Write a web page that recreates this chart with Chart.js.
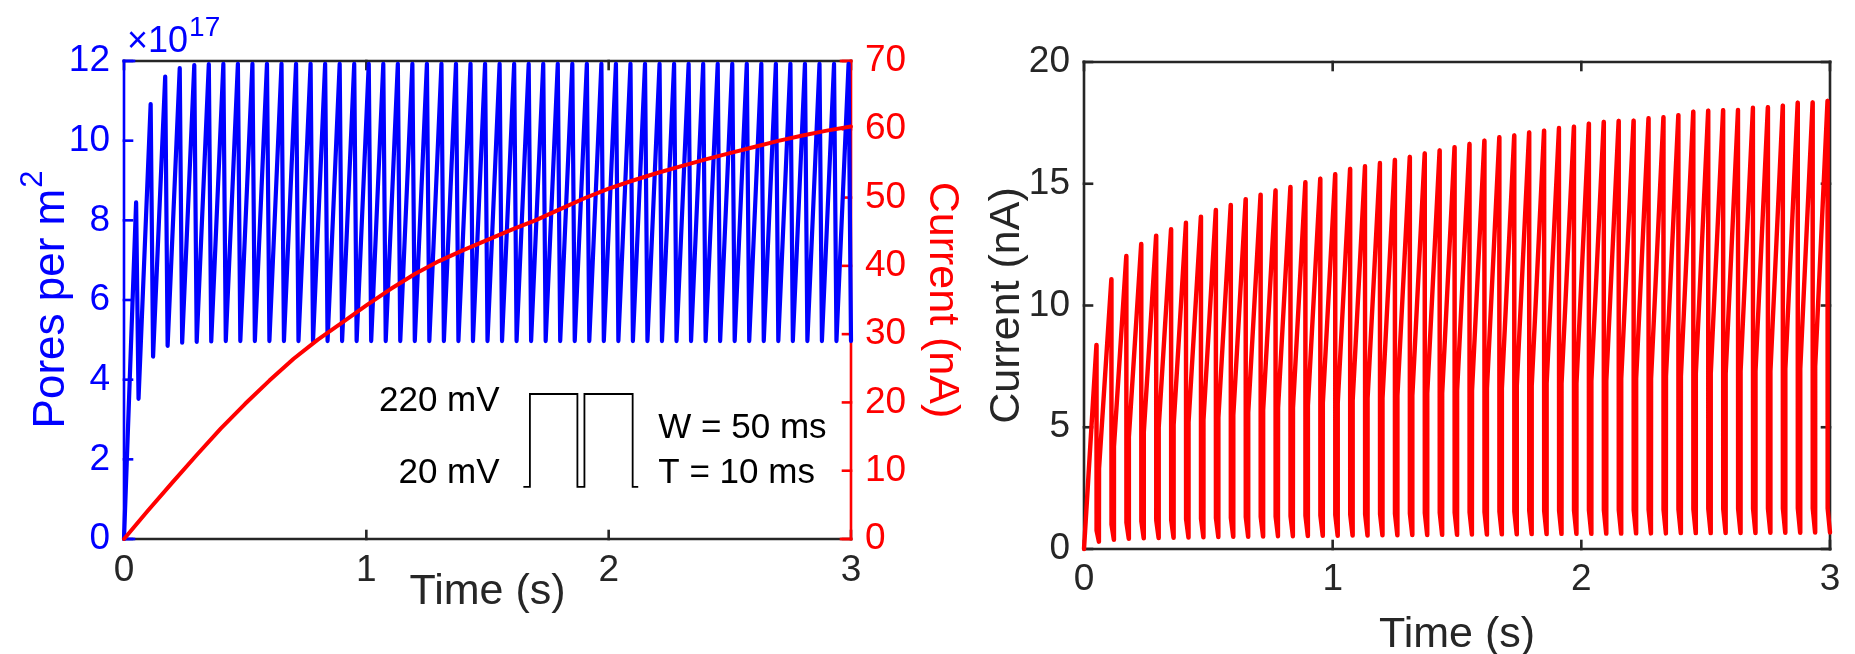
<!DOCTYPE html>
<html>
<head>
<meta charset="utf-8">
<script src="https://cdn.jsdelivr.net/npm/chart.js@4.4.1/dist/chart.umd.min.js"></script>
<style>
  html, body { margin: 0; padding: 0; background: #ffffff; overflow: hidden; }
  #wrap { position: relative; width: 1855px; height: 654px; }
  canvas { position: absolute; top: 0; }
  #poresChart { left: 0; }
  #currentChart { left: 980px; }
</style>
</head>
<body>
<div id="wrap">
  <canvas id="poresChart" width="980" height="654"></canvas>
  <canvas id="currentChart" width="875" height="654"></canvas>
</div>
<script>
// Pulse train: W = 50 ms at 220 mV, then T = 10 ms at 20 mV, repeated over 3 s
const pulseWidth = 0.05;
const pulseGap = 0.01;
const switchTime = 0.0005;

// Pore density (x10^17 per m^2) at the end of each 220 mV phase and of each 20 mV phase
const poresPeak = [
  8.45, 10.92, 11.61, 11.82, 11.90, 11.92, 11.93, 11.93, 11.93, 11.93,
  11.93, 11.93, 11.93, 11.93, 11.93, 11.93, 11.93, 11.93, 11.93, 11.93,
  11.93, 11.93, 11.93, 11.93, 11.93, 11.93, 11.93, 11.93, 11.93, 11.93,
  11.93, 11.93, 11.93, 11.93, 11.93, 11.93, 11.93, 11.93, 11.93, 11.93,
  11.93, 11.93, 11.93, 11.93, 11.93, 11.93, 11.93, 11.93, 11.93, 11.93
];
const poresTrough = [
  3.52, 4.58, 4.85, 4.93, 4.95, 4.96, 4.97, 4.97, 4.97, 4.97,
  4.97, 4.97, 4.97, 4.97, 4.97, 4.97, 4.97, 4.97, 4.97, 4.97,
  4.97, 4.97, 4.97, 4.97, 4.97, 4.97, 4.97, 4.97, 4.97, 4.97,
  4.97, 4.97, 4.97, 4.97, 4.97, 4.97, 4.97, 4.97, 4.97, 4.97,
  4.97, 4.97, 4.97, 4.97, 4.97, 4.97, 4.97, 4.97, 4.97, 4.97
];

// Slowly rising current (nA) on the right axis of the left panel
const slowTime = [
  0.0, 0.1, 0.2, 0.3, 0.4, 0.5, 0.6, 0.7, 0.8, 0.9,
  1.0, 1.1, 1.2, 1.3, 1.4, 1.5, 1.6, 1.7, 1.8, 1.9,
  2.0, 2.1, 2.2, 2.3, 2.4, 2.5, 2.6, 2.7, 2.8, 2.9, 3.0
];
const slowCurrent = [
  0.0, 4.2, 8.3, 12.3, 16.2, 19.8, 23.2, 26.4, 29.2, 31.7,
  34.2, 36.6, 38.8, 40.7, 42.3, 43.8, 45.3, 46.7, 48.3, 49.9,
  51.3, 52.5, 53.6, 54.6, 55.6, 56.5, 57.4, 58.3, 59.1, 59.8, 60.4
];

// Pulsed current (nA): level right after each pulse switches on,
// at the end of each pulse, right after it switches off, and at the end of each gap
const currentOn = [
  0.0, 3.3, 4.2, 4.6, 4.8, 5.0, 5.1, 5.2, 5.3, 5.4,
  5.5, 5.6, 5.7, 5.8, 5.8, 5.9, 6.0, 6.0, 6.1, 6.2,
  6.2, 6.3, 6.3, 6.4, 6.4, 6.5, 6.5, 6.6, 6.6, 6.7,
  6.7, 6.8, 6.8, 6.8, 6.9, 6.9, 7.0, 7.0, 7.0, 7.1,
  7.1, 7.2, 7.2, 7.2, 7.3, 7.3, 7.3, 7.4, 7.4, 7.5, 7.6
];
const currentPeak = [
  8.38, 11.08, 12.03, 12.53, 12.87, 13.13, 13.40, 13.65, 13.92, 14.13,
  14.37, 14.55, 14.72, 14.87, 15.06, 15.21, 15.39, 15.61, 15.72, 15.85,
  15.98, 16.10, 16.24, 16.37, 16.50, 16.63, 16.77, 16.91, 16.98, 17.11,
  17.18, 17.29, 17.34, 17.47, 17.54, 17.58, 17.59, 17.69, 17.73, 17.82,
  17.96, 18.00, 18.02, 18.03, 18.12, 18.14, 18.21, 18.33, 18.34, 18.40
];
const currentOff = [
  0.76, 1.01, 1.09, 1.14, 1.17, 1.19, 1.22, 1.24, 1.27, 1.28,
  1.31, 1.32, 1.34, 1.35, 1.37, 1.38, 1.40, 1.42, 1.43, 1.44,
  1.45, 1.46, 1.48, 1.49, 1.50, 1.51, 1.52, 1.54, 1.54, 1.56,
  1.56, 1.57, 1.58, 1.59, 1.60, 1.60, 1.60, 1.61, 1.61, 1.62,
  1.63, 1.64, 1.64, 1.64, 1.65, 1.65, 1.66, 1.67, 1.67, 1.67
];
const currentRest = [
  0.30, 0.38, 0.42, 0.44, 0.45, 0.46, 0.47, 0.48, 0.49, 0.50,
  0.50, 0.51, 0.52, 0.52, 0.53, 0.54, 0.54, 0.55, 0.55, 0.56,
  0.56, 0.57, 0.57, 0.58, 0.58, 0.59, 0.59, 0.60, 0.60, 0.61,
  0.61, 0.62, 0.62, 0.62, 0.63, 0.63, 0.64, 0.64, 0.64, 0.65,
  0.65, 0.65, 0.66, 0.66, 0.66, 0.67, 0.67, 0.67, 0.68, 0.68
];

const xTicks = [0, 1, 2, 3];
const poresTicks = [0, 2, 4, 6, 8, 10, 12];
const slowTicks = [0, 10, 20, 30, 40, 50, 60, 70];
const currentTicks = [0, 5, 10, 15, 20];

const FONT = "'Liberation Sans', Arial, Helvetica, sans-serif";
const INK = '#262626';
const BLUE = '#0000ff';
const RED = '#ff0000';

// ---- series built from the arrays above ----
const period = pulseWidth + pulseGap;
const poresPts = [{ x: 0, y: 0 }];
poresPeak.forEach((p, k) => {
  const t0 = k * period;
  poresPts.push({ x: t0 + pulseWidth, y: p });
  poresPts.push({ x: t0 + period, y: poresTrough[k] });
});

const slowPts = slowTime.map((t, i) => ({ x: t, y: slowCurrent[i] }));

const currentPts = [{ x: 0, y: 0 }];
currentPeak.forEach((p, k) => {
  const t0 = k * period;
  if (k > 0) currentPts.push({ x: t0 + switchTime, y: currentOn[k] });
  currentPts.push({ x: t0 + pulseWidth, y: p });
  currentPts.push({ x: t0 + pulseWidth + switchTime, y: currentOff[k] });
  currentPts.push({ x: t0 + period, y: currentRest[k] });
});
currentPts.push({ x: currentPeak.length * period, y: currentOn[currentPeak.length] });

// ---- frame with inward tick marks ----
function hLine(ctx, x0, x1, y, color, w) {
  ctx.strokeStyle = color; ctx.lineWidth = w;
  ctx.beginPath(); ctx.moveTo(x0, y); ctx.lineTo(x1, y); ctx.stroke();
}
function vLine(ctx, x, y0, y1, color, w) {
  ctx.strokeStyle = color; ctx.lineWidth = w;
  ctx.beginPath(); ctx.moveTo(x, y0); ctx.lineTo(x, y1); ctx.stroke();
}

const TICK = 8;
const LW = 2.6;

const poresFrame = {
  id: 'poresFrame',
  beforeDatasetsDraw(chart) {
    const { ctx, chartArea: a, scales } = chart;
    ctx.save();
    ctx.lineCap = 'square';
    hLine(ctx, a.left, a.right, a.top, INK, LW);
    hLine(ctx, a.left, a.right, a.bottom, INK, LW);
    xTicks.forEach(v => {
      const x = scales.x.getPixelForValue(v);
      vLine(ctx, x, a.bottom, a.bottom - TICK, INK, LW);
      vLine(ctx, x, a.top, a.top + TICK, INK, LW);
    });
    hLine(ctx, a.left, a.left + 10, a.top, BLUE, LW);
    hLine(ctx, a.left, a.left + 10, a.bottom, BLUE, LW);
    vLine(ctx, a.left, a.top, a.bottom, BLUE, LW);
    poresTicks.forEach(v => {
      const y = scales.yL.getPixelForValue(v);
      hLine(ctx, a.left, a.left + TICK, y, BLUE, LW);
    });
    hLine(ctx, a.right - 10, a.right, a.top, RED, LW);
    hLine(ctx, a.right - 10, a.right, a.bottom, RED, LW);
    vLine(ctx, a.right, a.top, a.bottom, RED, LW);
    slowTicks.forEach(v => {
      const y = scales.yR.getPixelForValue(v);
      hLine(ctx, a.right - TICK, a.right, y, RED, LW);
    });
    ctx.restore();
  },
  afterDraw(chart) {
    const { ctx, chartArea: a, scales } = chart;
    ctx.save();
    // y-axis title with superscript
    const main = 'Pores per m';
    const sup = '2';
    ctx.fillStyle = BLUE;
    ctx.translate(49, (a.top + a.bottom) / 2);
    ctx.rotate(-Math.PI / 2);
    ctx.font = '44px ' + FONT;
    const wMain = ctx.measureText(main).width;
    ctx.font = '31px ' + FONT;
    const wSup = ctx.measureText(sup).width;
    const start = -(wMain + wSup) / 2;
    ctx.textBaseline = 'alphabetic';
    ctx.textAlign = 'left';
    ctx.font = '44px ' + FONT;
    ctx.fillText(main, start, 15);
    ctx.font = '31px ' + FONT;
    ctx.fillText(sup, start + wMain + 1, -7);
    ctx.restore();

    // exponent label above the left axis
    ctx.save();
    ctx.fillStyle = BLUE;
    ctx.textBaseline = 'alphabetic';
    ctx.textAlign = 'left';
    ctx.font = '36px ' + FONT;
    const ex = a.left + 3;
    ctx.fillText('\u00d710', ex, 52);
    const wx = ctx.measureText('\u00d710').width;
    ctx.font = '28px ' + FONT;
    ctx.fillText('17', ex + wx + 1, 36);
    ctx.restore();

    // waveform sketch of the applied pulses
    const px = v => scales.x.getPixelForValue(v);
    const py = v => scales.yL.getPixelForValue(v);
    const lo = 1.31, hi = 3.64;
    const xs = [1.648, 1.675, 1.871, 1.900, 2.099, 2.122];
    ctx.save();
    ctx.strokeStyle = '#000000';
    ctx.lineWidth = 1.8;
    ctx.beginPath();
    ctx.moveTo(px(xs[0]), py(lo));
    ctx.lineTo(px(xs[1]), py(lo));
    ctx.lineTo(px(xs[1]), py(hi));
    ctx.lineTo(px(xs[2]), py(hi));
    ctx.lineTo(px(xs[2]), py(lo));
    ctx.lineTo(px(xs[3]), py(lo));
    ctx.lineTo(px(xs[3]), py(hi));
    ctx.lineTo(px(xs[4]), py(hi));
    ctx.lineTo(px(xs[4]), py(lo));
    ctx.lineTo(px(xs[5]), py(lo));
    ctx.stroke();
    ctx.fillStyle = '#000000';
    ctx.font = '35px ' + FONT;
    ctx.textBaseline = 'middle';
    ctx.textAlign = 'right';
    ctx.fillText('220 mV', px(1.55), py(3.45));
    ctx.fillText('20 mV', px(1.55), py(1.66));
    ctx.textAlign = 'left';
    ctx.fillText('W = 50 ms', px(2.205), py(2.78));
    ctx.fillText('T = 10 ms', px(2.205), py(1.66));
    ctx.restore();
  }
};

const currentFrame = {
  id: 'currentFrame',
  beforeDatasetsDraw(chart) {
    const { ctx, chartArea: a, scales } = chart;
    ctx.save();
    ctx.lineCap = 'square';
    hLine(ctx, a.left, a.right, a.top, INK, LW);
    hLine(ctx, a.left, a.right, a.bottom, INK, LW);
    vLine(ctx, a.left, a.top, a.bottom, INK, LW);
    vLine(ctx, a.right, a.top, a.bottom, INK, LW);
    xTicks.forEach(v => {
      const x = scales.x.getPixelForValue(v);
      vLine(ctx, x, a.bottom, a.bottom - TICK, INK, LW);
      vLine(ctx, x, a.top, a.top + TICK, INK, LW);
    });
    currentTicks.forEach(v => {
      const y = scales.y.getPixelForValue(v);
      hLine(ctx, a.left, a.left + TICK, y, INK, LW);
      hLine(ctx, a.right - TICK, a.right, y, INK, LW);
    });
    ctx.restore();
  }
};

const tickFont = { family: FONT, size: 37 };
const titleFont = { family: FONT, size: 43, lineHeight: 1 };

function fixedWidth(w) { return s => { s.width = w; }; }
function fixedHeight(h) { return s => { s.height = h; }; }

const lineStyle = { pointRadius: 0, tension: 0, fill: false, clip: 10,
  borderJoinStyle: 'round', borderCapStyle: 'round' };

new Chart(document.getElementById('poresChart'), {
  type: 'line',
  data: {
    datasets: [
      Object.assign({ label: 'Current (nA)', data: slowPts, yAxisID: 'yR', borderColor: RED,
        borderWidth: 4, order: 0 }, lineStyle),
      Object.assign({ label: 'Pores per m2', data: poresPts, yAxisID: 'yL', borderColor: BLUE,
        borderWidth: 4.2, order: 1 }, lineStyle)
    ]
  },
  options: {
    responsive: false, animation: false, events: [],
    layout: { padding: { left: 0, right: 0, top: 61, bottom: 0 } },
    plugins: { legend: { display: false }, tooltip: { enabled: false } },
    scales: {
      x: {
        type: 'linear', min: 0, max: 3,
        afterBuildTicks: s => { s.ticks = xTicks.map(v => ({ value: v })); },
        ticks: { color: INK, font: tickFont, padding: 10, maxRotation: 0 },
        grid: { display: false, drawTicks: false }, border: { display: false },
        title: { display: true, text: 'Time (s)', color: INK, font: titleFont, padding: { top: 0, bottom: 40 } },
        afterFit: fixedHeight(115)
      },
      yL: {
        type: 'linear', position: 'left', min: 0, max: 12,
        afterBuildTicks: s => { s.ticks = poresTicks.map(v => ({ value: v })); },
        ticks: { color: BLUE, font: tickFont, padding: 14 },
        grid: { display: false, drawTicks: false }, border: { display: false },
        afterFit: fixedWidth(124)
      },
      yR: {
        type: 'linear', position: 'right', min: 0, max: 70,
        afterBuildTicks: s => { s.ticks = slowTicks.map(v => ({ value: v })); },
        ticks: { color: RED, font: tickFont, padding: 14 },
        grid: { display: false, drawTicks: false }, border: { display: false },
        title: { display: true, text: 'Current (nA)', color: RED, font: titleFont, padding: { top: 17, bottom: 0 } },
        afterFit: fixedWidth(980 - 851)
      }
    }
  },
  plugins: [poresFrame]
});

new Chart(document.getElementById('currentChart'), {
  type: 'line',
  data: {
    datasets: [
      Object.assign({ label: 'Current (nA)', data: currentPts, borderColor: RED, borderWidth: 4.4 }, lineStyle)
    ]
  },
  options: {
    responsive: false, animation: false, events: [],
    layout: { padding: { left: 0, right: 25, top: 62, bottom: 0 } },
    plugins: { legend: { display: false }, tooltip: { enabled: false } },
    scales: {
      x: {
        type: 'linear', min: 0, max: 3,
        afterBuildTicks: s => { s.ticks = xTicks.map(v => ({ value: v })); },
        ticks: { color: INK, font: tickFont, padding: 9, maxRotation: 0 },
        grid: { display: false, drawTicks: false }, border: { display: false },
        title: { display: true, text: 'Time (s)', color: INK, font: titleFont, padding: { top: 0, bottom: -3 } },
        afterFit: fixedHeight(105)
      },
      y: {
        type: 'linear', position: 'left', min: 0, max: 20,
        afterBuildTicks: s => { s.ticks = currentTicks.map(v => ({ value: v })); },
        ticks: { color: INK, font: tickFont, padding: 14 },
        grid: { display: false, drawTicks: false }, border: { display: false },
        title: { display: true, text: 'Current (nA)', color: INK, font: titleFont, padding: { top: 6, bottom: 0 } },
        afterFit: fixedWidth(104)
      }
    }
  },
  plugins: [currentFrame]
});
</script>
</body>
</html>
